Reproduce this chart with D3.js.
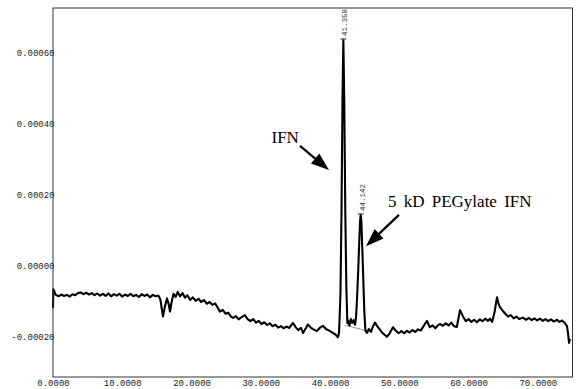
<!DOCTYPE html>
<html><head><meta charset="utf-8">
<script src="https://cdn.jsdelivr.net/npm/d3@7"></script>
<style>body{margin:0;background:#fff}svg{display:block}</style>
</head><body><svg id="c" width="576" height="389"></svg>
<script>
// ---- data ----
const xTickValues = [0, 10, 20, 30, 40, 50, 60, 70];
const xTickLabels = ["0.0000", "10.0000", "20.0000", "30.0000", "40.0000", "50.0000", "60.0000", "70.0000"];
const yTickValues = [0.0006, 0.0004, 0.0002, 0, -0.0002];
const yTickLabels = ["0.00060", "0.00040", "0.00020", "0.00000", "-0.00020"];
// detector trace: [retention time, absorbance in units of 1e-5]
const trace = [
[0.0,-11.9],[0.05,-6.6],[0.4,-8.2],[0.8,-8.6],[1.2,-8.1],[1.6,-8.5],[2.0,-8.2],[2.4,-8.7],[2.8,-8.0],[3.2,-8.3],
[3.6,-7.7],[4.0,-7.5],[4.4,-8.0],[4.8,-7.6],[5.2,-8.1],[5.6,-7.7],[6.0,-8.3],[6.4,-7.8],[6.8,-8.4],[7.2,-7.9],
[7.6,-8.5],[8.0,-7.8],[8.4,-8.6],[8.8,-8.0],[9.2,-8.4],[9.6,-7.9],[10.0,-8.7],[10.4,-8.1],[10.8,-8.5],[11.2,-7.9],
[11.6,-8.6],[12.0,-8.2],[12.4,-8.8],[12.8,-8.0],[13.2,-8.5],[13.6,-8.1],[14.0,-8.9],[14.4,-8.2],[14.8,-8.6],[15.2,-8.4],
[15.5,-9.5],[15.88,-14.3],[16.15,-11.5],[16.46,-9.2],[16.7,-10.8],[16.89,-12.9],[17.15,-10.0],[17.4,-7.9],[17.7,-8.8],[18.0,-7.4],
[18.35,-8.6],[18.7,-7.7],[19.05,-9.0],[19.4,-8.3],[19.8,-9.6],[20.2,-8.9],[20.6,-9.9],[21.0,-9.3],[21.4,-10.2],[21.8,-9.7],
[22.2,-10.7],[22.6,-10.2],[23.0,-11.0],[23.4,-10.6],[23.8,-11.9],[24.1,-12.9],[24.5,-12.4],[24.9,-13.5],[25.3,-13.2],[25.7,-14.3],
[26.0,-14.7],[26.4,-14.2],[26.8,-15.1],[27.2,-14.5],[27.7,-13.9],[28.1,-15.0],[28.5,-15.6],[28.9,-15.0],[29.3,-16.0],[29.7,-15.5],
[30.1,-16.4],[30.5,-15.9],[30.9,-16.7],[31.3,-16.2],[31.7,-17.0],[32.1,-16.6],[32.5,-17.4],[32.9,-17.0],[33.3,-17.6],[33.7,-17.1],
[34.1,-17.5],[34.65,-16.1],[35.0,-17.2],[35.4,-18.1],[35.8,-17.5],[36.1,-18.9],[36.5,-17.6],[36.8,-16.5],[37.2,-17.4],[37.6,-17.9],
[38.1,-18.4],[38.5,-17.5],[38.98,-16.9],[39.4,-17.8],[39.8,-18.2],[40.4,-18.9],[40.8,-19.4],[41.14,-20.1],[41.3,-18.8],[41.5,-8.0],
[41.65,15.0],[41.8,48.0],[41.92,63.5],[42.05,46.0],[42.2,15.0],[42.35,-6.0],[42.5,-16.2],[42.6,-15.4],[42.8,-16.8],[43.0,-15.0],
[43.2,-16.1],[43.4,-15.3],[43.6,-16.6],[43.75,-14.5],[43.9,-9.0],[44.05,-2.0],[44.2,6.0],[44.33,12.5],[44.42,14.3],[44.52,12.5],
[44.65,5.0],[44.8,-4.0],[44.95,-13.0],[45.1,-18.2],[45.33,-18.9],[45.6,-17.8],[45.9,-18.6],[46.2,-17.0],[46.49,-16.0],[46.8,-17.0],
[47.2,-18.0],[47.6,-19.0],[48.0,-19.6],[48.2,-20.0],[48.6,-19.0],[49.08,-17.3],[49.5,-18.3],[49.9,-19.0],[50.3,-18.4],[50.7,-19.0],
[51.1,-18.3],[51.5,-18.8],[51.9,-18.1],[52.3,-18.6],[52.7,-17.9],[53.1,-18.2],[53.5,-17.0],[53.99,-15.5],[54.4,-17.3],[54.8,-16.8],
[55.2,-17.6],[55.6,-16.7],[55.9,-16.4],[56.3,-16.9],[56.7,-16.2],[57.1,-16.8],[57.5,-16.0],[57.9,-17.0],[58.3,-17.2],[58.76,-12.5],
[59.2,-14.3],[59.6,-15.6],[60.0,-15.0],[60.4,-15.8],[60.8,-15.2],[61.2,-15.9],[61.6,-15.1],[62.0,-15.6],[62.4,-14.9],[62.8,-15.5],
[63.1,-14.9],[63.4,-15.8],[63.75,-13.0],[64.1,-8.9],[64.3,-10.5],[64.5,-11.6],[64.9,-12.6],[65.3,-13.5],[65.7,-14.3],[66.1,-13.9],
[66.5,-14.8],[66.9,-14.3],[67.3,-15.0],[67.85,-14.6],[68.3,-15.2],[68.7,-14.7],[69.1,-15.3],[69.5,-14.8],[69.9,-15.4],[70.3,-14.9],
[70.7,-15.5],[71.1,-15.0],[71.5,-15.6],[71.9,-15.1],[72.3,-15.7],[72.76,-15.2],[73.1,-15.8],[73.5,-15.4],[73.9,-16.1],[74.2,-17.0],
[74.35,-18.9],[74.5,-21.7],[74.63,-20.6]
];
const integrationBaseline = [[42.15, -16.7], [45.29, -18.3]];
const peakTimes = [41.92, 44.42];
const peakValuesE5 = [63.5, 14.3];
const peakLabels = ["41.358", "44.142"];
// annotations (data units, y in 1e-5)
const annotationTexts = ["IFN", "5 kD PEGylate IFN"];
const annotationAnchor = [[35.5, 34.4], [48.36, 16.4]];
const arrowStart = [[35.66, 33.7], [49.95, 14.3]];
const arrowTip = [[39.84, 26.9], [45.19, 5.5]];

// ---- drawing ----
const svg = d3.select("#c");
const L = 53, R = 572.5, T = 8, B = 377;
const x = d3.scaleLinear().domain([0, 75]).range([L, R]);
const y = d3.scaleLinear().domain([-0.000313, 0.000725]).range([B, T]);
const yE = v => y(v * 1e-5);

const mono = "'Liberation Mono', 'DejaVu Sans Mono', monospace";

const gx = svg.append("g").attr("transform", `translate(0,${B})`)
  .call(d3.axisBottom(x).tickValues(xTickValues).tickFormat((d, i) => xTickLabels[i]).tickSize(0).tickPadding(2.5));
gx.select(".domain").remove();
gx.selectAll("text").attr("font-family", mono).attr("font-size", 9).attr("fill", "#222");

const gy = svg.append("g").attr("transform", `translate(${L},0)`)
  .call(d3.axisLeft(y).tickValues(yTickValues).tickFormat((d, i) => yTickLabels[i]).tickSize(0).tickPadding(-1.5));
gy.select(".domain").remove();
gy.selectAll("text").attr("font-family", mono).attr("font-size", 9).attr("fill", "#222");

const line = d3.line().x(d => x(d[0])).y(d => yE(d[1]));
svg.append("path").datum(integrationBaseline).attr("d", line)
  .attr("fill", "none").attr("stroke", "#777").attr("stroke-width", 0.8);
svg.append("path").datum(trace).attr("d", line)
  .attr("fill", "none").attr("stroke", "#000").attr("stroke-width", 2.1).attr("stroke-linejoin", "round");

peakTimes.forEach((t, i) => {
  const px = x(t), py = yE(peakValuesE5[i]);
  svg.append("line").attr("x1", px - 3).attr("x2", px + 3).attr("y1", py - 1).attr("y2", py - 1)
    .attr("stroke", "#333").attr("stroke-width", 1);
  svg.append("text").attr("transform", `translate(${px + 1.5},${py - 4}) rotate(-90)`)
    .attr("dy", "0.35em").attr("font-family", mono).attr("font-size", 7.5).attr("fill", "#333")
    .text(peakLabels[i]);
});

svg.append("rect").attr("x", L).attr("y", T).attr("width", R - L).attr("height", B - T)
  .attr("fill", "none").attr("stroke", "#333").attr("stroke-width", 1);

annotationTexts.forEach((s, i) => {
  svg.append("text").attr("x", x(annotationAnchor[i][0])).attr("y", yE(annotationAnchor[i][1]))
    .attr("text-anchor", i === 0 ? "end" : "start")
    .attr("font-family", "'Liberation Serif', 'Times New Roman', serif").attr("font-size", 17)
    .attr("word-spacing", i === 0 ? 0 : 3).attr("fill", "#000").text(s);
  const x0 = x(arrowStart[i][0]), y0 = yE(arrowStart[i][1]);
  const x1 = x(arrowTip[i][0]), y1 = yE(arrowTip[i][1]);
  const dx = x1 - x0, dy = y1 - y0, len = Math.hypot(dx, dy);
  const ux = dx / len, uy = dy / len, hl = 18, hw = 6.5;
  const bx = x1 - ux * hl, by = y1 - uy * hl;
  svg.append("line").attr("x1", x0).attr("y1", y0).attr("x2", bx + ux * 2).attr("y2", by + uy * 2)
    .attr("stroke", "#000").attr("stroke-width", 2.2);
  svg.append("path").attr("d", `M${x1},${y1}L${bx - uy * hw},${by + ux * hw}L${bx + uy * hw},${by - ux * hw}Z`)
    .attr("fill", "#000");
});
</script></body></html>
